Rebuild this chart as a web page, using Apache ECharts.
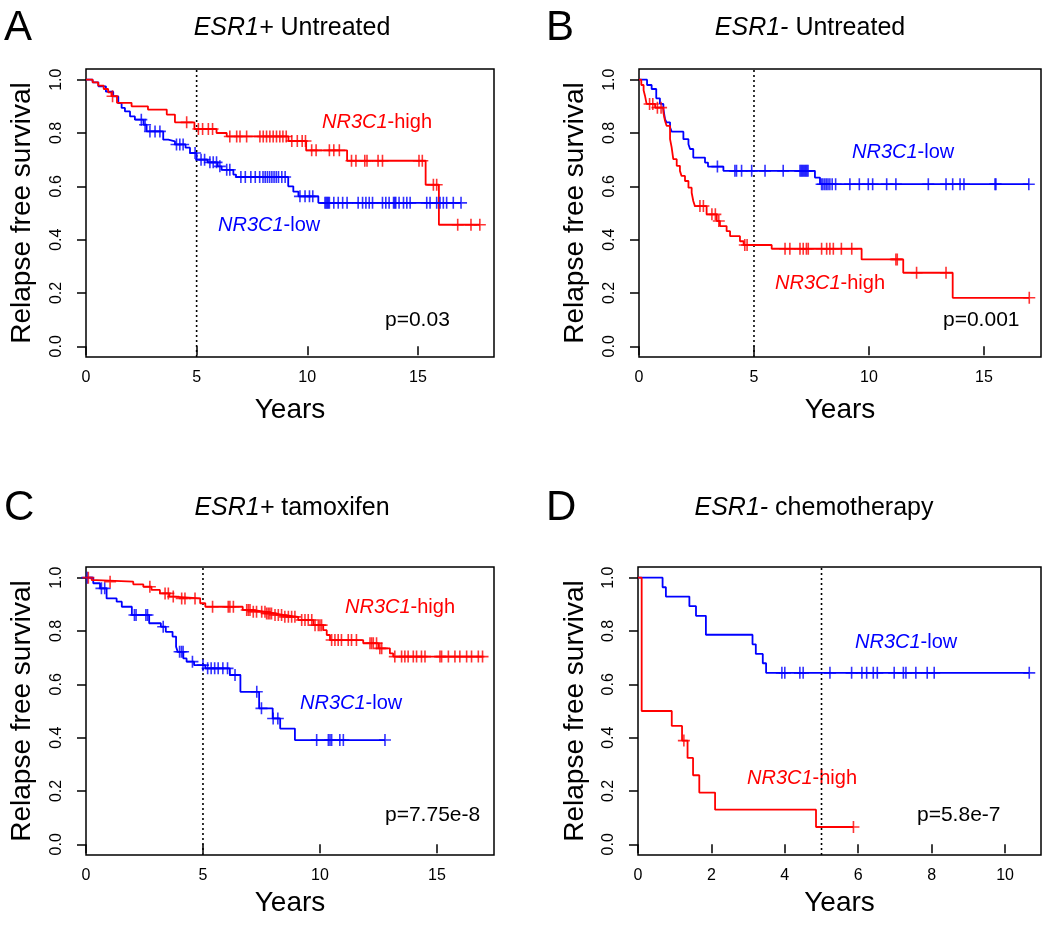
<!DOCTYPE html>
<html><head><meta charset="utf-8">
<script src="https://cdn.jsdelivr.net/npm/echarts@6/dist/echarts.min.js"></script>
<style>html,body{margin:0;padding:0;background:#fff}#c{width:1050px;height:938px}</style>
</head><body><div id="c"></div>
<script>
// ---------- DATA (Kaplan-Meier steps: [time in years, survival]) ----------
const A_high = [[0,1],[0.3,0.99],[0.55,0.978],[0.8,0.965],[1.0,0.952],[1.15,0.938],[1.4,0.913],[2.06,0.9],[2.8,0.888],[3.65,0.869],[4.02,0.84],[4.9,0.815],[5.9,0.8],[6.36,0.787],[9.15,0.77],[9.95,0.735],[11.8,0.696],[15.35,0.606],[15.95,0.456]];
const A_highCens = [1.2,4.55,5.08,5.27,5.53,5.72,6.5,6.81,6.96,7.26,7.86,8.01,8.16,8.31,8.46,8.61,8.76,8.9,9.05,9.3,9.55,9.77,9.92,10.2,10.4,11.0,11.2,11.45,12.0,12.2,12.6,12.7,13.2,13.4,15.05,15.2,15.7,15.85,16.8,17.4,17.8];
const A_low = [[0,1],[0.3,0.99],[0.56,0.975],[0.9,0.955],[1.23,0.937],[1.46,0.912],[1.61,0.894],[1.76,0.881],[1.99,0.862],[2.21,0.85],[2.6,0.831],[2.74,0.806],[3.49,0.775],[3.72,0.769],[4.02,0.757],[4.5,0.745],[4.7,0.725],[5.0,0.7],[5.5,0.69],[5.95,0.675],[6.13,0.662],[6.66,0.644],[6.78,0.635],[9.14,0.6],[9.37,0.58],[9.6,0.5625],[10.5,0.538]];
const A_lowCens = [2.5,2.67,2.89,3.12,3.34,4.09,4.24,4.39,4.93,5.2,5.36,5.6,5.75,5.9,6.05,6.36,6.5,7.0,7.2,7.45,7.65,7.85,8.0,8.1,8.2,8.3,8.4,8.5,8.6,8.7,8.85,9.0,9.67,9.9,10.1,10.25,10.8,10.85,10.9,10.95,11.0,11.2,11.4,11.6,11.8,12.3,12.5,12.65,12.8,12.95,13.4,13.55,13.7,13.9,13.95,14.0,14.15,14.35,14.5,14.65,15.4,15.55,15.85,16.0,16.15,16.3,16.6,16.95];

const B_high = [[0,1],[0.1,0.98],[0.2,0.96],[0.26,0.94],[0.33,0.909],[0.7,0.895],[1.06,0.877],[1.13,0.846],[1.2,0.827],[1.35,0.777],[1.42,0.746],[1.49,0.702],[1.64,0.677],[1.78,0.658],[1.85,0.639],[2.0,0.62],[2.15,0.595],[2.29,0.576],[2.36,0.545],[2.43,0.526],[2.94,0.495],[3.38,0.47],[3.52,0.451],[3.81,0.432],[3.96,0.413],[4.39,0.394],[4.55,0.38],[5.77,0.366],[9.68,0.326],[11.49,0.276],[13.64,0.182]];
const B_highCens = [0.46,0.6,0.8,0.96,2.65,2.8,3.17,3.32,3.47,4.6,4.7,6.35,6.56,7.0,7.14,7.28,7.36,7.94,8.16,8.3,8.45,8.8,9.25,11.17,11.23,12.07,13.35,16.97];
const B_low = [[0,1],[0.35,0.98],[0.55,0.965],[0.75,0.93],[0.91,0.909],[1.06,0.89],[1.13,0.852],[1.2,0.84],[1.35,0.821],[1.42,0.805],[1.93,0.777],[2.15,0.758],[2.22,0.74],[2.36,0.708],[2.87,0.689],[3.0,0.674],[3.67,0.658],[7.65,0.633],[7.87,0.608]];
const B_lowCens = [3.41,4.17,4.24,4.46,4.9,5.48,6.27,7.0,7.05,7.1,7.15,7.2,7.25,7.3,7.35,7.94,8.0,8.08,8.15,8.22,8.3,8.4,8.55,9.17,9.58,9.97,10.16,10.77,11.17,12.58,13.35,13.64,13.96,14.13,15.48,15.52,16.95];

const C_high = [[0,1],[0.24,0.991],[0.45,0.985],[2.02,0.975],[2.45,0.966],[2.8,0.954],[3.16,0.941],[3.56,0.929],[3.75,0.922],[4.88,0.904],[5.1,0.891],[6.7,0.879],[7.1,0.872],[7.7,0.866],[8.05,0.86],[8.43,0.853],[9.07,0.841],[9.72,0.822],[10.14,0.803],[10.29,0.785],[10.43,0.766],[11.85,0.754],[12.5,0.735],[12.99,0.716],[13.13,0.704]];
const C_highCens = [0.1,1.03,2.73,3.38,3.52,3.73,4.09,4.23,4.66,5.41,6.08,6.15,6.3,6.87,6.94,7.01,7.15,7.29,7.51,7.65,7.72,7.79,7.86,7.93,8.08,8.22,8.36,8.5,8.65,8.79,8.93,9.22,9.36,9.5,9.65,9.79,9.93,10.0,10.07,10.5,10.64,10.78,10.92,11.21,11.35,11.56,12.14,12.21,12.28,12.42,12.56,12.64,13.2,13.49,13.63,13.77,13.99,14.13,14.34,14.49,15.13,15.2,15.49,15.77,15.98,16.27,16.48,16.77,16.95];
const C_low = [[0,1],[0.31,0.979],[0.6,0.96],[0.88,0.922],[1.31,0.91],[1.53,0.891],[1.96,0.86],[2.7,0.829],[3.2,0.816],[3.41,0.797],[3.7,0.779],[3.85,0.741],[3.92,0.722],[4.16,0.697],[4.3,0.685],[4.62,0.672],[5.1,0.66],[6.15,0.635],[6.6,0.572],[7.4,0.51],[7.98,0.472],[8.3,0.434],[8.93,0.391]];
const C_lowCens = [0.05,0.66,0.8,2.07,2.14,2.56,2.63,3.3,4.0,4.08,4.15,4.55,5.0,5.2,5.35,5.5,5.65,5.85,6.05,6.37,7.3,7.5,8.0,8.2,9.86,10.36,10.43,10.5,10.85,11.0,12.78];

const D_high = [[0,1],[0.1,0.5],[0.92,0.444],[1.2,0.389],[1.35,0.324],[1.5,0.259],[1.67,0.194],[2.1,0.13],[4.85,0.065]];
const D_highCens = [1.25,5.87];
const D_low = [[0,1],[0.67,0.964],[0.76,0.929],[1.4,0.893],[1.58,0.857],[1.85,0.786],[3.12,0.75],[3.21,0.714],[3.4,0.679],[3.49,0.643]];
const D_lowCens = [3.92,4.0,4.41,4.5,5.23,5.82,6.1,6.23,6.41,6.52,6.98,7.23,7.3,7.57,7.88,8.07,10.66];

const yTicks = [0, 0.2, 0.4, 0.6, 0.8, 1.0];
const xTicksLong = [0, 5, 10, 15];
const xTicksD = [0, 2, 4, 6, 8, 10];
const refYear = 5;
const pValues = ['p=0.03', 'p=0.001', 'p=7.75e-8', 'p=5.8e-7'];
const titles = [['ESR1+', ' Untreated'], ['ESR1-', ' Untreated'], ['ESR1+', ' tamoxifen'], ['ESR1-', ' chemotherapy']];
const letters = ['A', 'B', 'C', 'D'];

// ---------- LAYOUT ----------
const FONT = '"Liberation Sans", Arial, Helvetica, sans-serif';
const RED = '#ff0000', BLUE = '#0000ff';
const panels = [
  {left: 86, top: 69, width: 408, xmax: 18.44, ticks: xTicksLong, high: A_high, highC: A_highCens, low: A_low, lowC: A_lowCens,
   hiLab: [322, 122], loLab: [218, 225], pLab: [385, 320], title: 292, titleY: 28, letterX: 4, ytitleX: 22, yearsY: 410},
  {left: 639, top: 69, width: 402, xmax: 17.48, ticks: xTicksLong, high: B_high, highC: B_highCens, low: B_low, lowC: B_lowCens,
   hiLab: [775, 283], loLab: [852, 152], pLab: [943, 320], title: 810, titleY: 28, letterX: 546, ytitleX: 575, yearsY: 410},
  {left: 86, top: 567, width: 408, xmax: 17.44, ticks: xTicksLong, high: C_high, highC: C_highCens, low: C_low, lowC: C_lowCens,
   hiLab: [345, 607], loLab: [300, 703], pLab: [385, 815], title: 292, titleY: 508, letterX: 4, ytitleX: 22, yearsY: 903},
  {left: 638, top: 567, width: 403, xmax: 10.98, ticks: xTicksD, high: D_high, highC: D_highCens, low: D_low, lowC: D_lowCens,
   hiLab: [747, 778], loLab: [855, 642], pLab: [917, 815], title: 814, titleY: 508, letterX: 546, ytitleX: 575, yearsY: 903}
];
const H = 288;

function survAt(steps, t) {
  let v = steps[0][1];
  for (const [ti, si] of steps) { if (ti <= t) v = si; else break; }
  return v;
}
function lineData(steps, cens) {
  const lastT = Math.max(steps[steps.length - 1][0], cens.length ? cens[cens.length - 1] : 0);
  return steps.concat([[lastT, steps[steps.length - 1][1]]]);
}
function censData(steps, cens) { return cens.map(t => [t, survAt(steps, t)]); }

const PLUS = 'path://M6,0L6,12M0,6L12,6';
const grids = [], xAxes = [], yAxes = [], series = [], graphics = [];
panels.forEach((p, i) => {
  grids.push({left: p.left, top: p.top, width: p.width, height: H, show: true, borderColor: '#000', borderWidth: 1.5, backgroundColor: 'transparent', containLabel: false});
  xAxes.push({type: 'value', gridIndex: i, min: 0, max: p.xmax,
    axisLine: {show: false}, splitLine: {show: false},
    axisTick: {show: true, customValues: p.ticks, length: 9, lineStyle: {color: '#000', width: 1.5}},
    axisLabel: {show: true, customValues: p.ticks, margin: 13, fontSize: 16, color: '#000', fontFamily: FONT, formatter: v => String(v)}});
  yAxes.push({type: 'value', gridIndex: i, min: -0.04, max: 1.04,
    axisLine: {show: false}, splitLine: {show: false},
    axisTick: {show: true, customValues: yTicks, length: 9, lineStyle: {color: '#000', width: 1.5}},
    axisLabel: {show: true, customValues: yTicks, margin: 21, rotate: 90, fontSize: 16, color: '#000', fontFamily: FONT, formatter: v => v.toFixed(1)}});
  // dotted reference line at 5 years
  series.push({type: 'line', xAxisIndex: i, yAxisIndex: i, data: [[refYear, -0.04], [refYear, 1.04]], symbol: 'none', silent: true,
    lineStyle: {color: '#000', width: 1.6, type: [2, 3]}, z: 1});
  [[p.low, p.lowC, BLUE], [p.high, p.highC, RED]].forEach(([st, ce, col]) => {
    series.push({type: 'line', xAxisIndex: i, yAxisIndex: i, step: 'end', data: lineData(st, ce), symbol: 'none',
      lineStyle: {color: col, width: 1.8}, silent: true, z: 3});
    series.push({type: 'scatter', xAxisIndex: i, yAxisIndex: i, data: censData(st, ce), symbol: PLUS, symbolSize: [12, 12],
      itemStyle: {color: 'none', borderColor: col, borderWidth: 1.6}, silent: true, z: 4});
  });
  const top = p.top;
  graphics.push({type: 'text', x: p.letterX, y: p.titleY, style: {text: letters[i], fontSize: 42, fontFamily: FONT, fill: '#000', align: 'left', verticalAlign: 'middle'}});
  graphics.push({type: 'text', x: p.title, y: p.titleY, style: {text: '{i|' + titles[i][0] + '}' + titles[i][1], fontSize: 25, fontFamily: FONT, fill: '#000', align: 'center', verticalAlign: 'middle',
    rich: {i: {fontStyle: 'italic', fontSize: 25, fontFamily: FONT, fill: '#000'}}}});
  graphics.push({type: 'text', x: p.ytitleX, y: top + H / 2, rotation: Math.PI / 2, style: {text: 'Relapse free survival', fontSize: 28, fontFamily: FONT, fill: '#000', align: 'center', verticalAlign: 'middle'}});
  graphics.push({type: 'text', x: p.left + p.width / 2, y: p.yearsY, style: {text: 'Years', fontSize: 28, fontFamily: FONT, fill: '#000', align: 'center', verticalAlign: 'middle'}});
  graphics.push({type: 'text', x: p.hiLab[0], y: p.hiLab[1], style: {text: '{i|NR3C1}-high', fontSize: 20, fontFamily: FONT, fill: RED, align: 'left', verticalAlign: 'middle',
    rich: {i: {fontStyle: 'italic', fontSize: 20, fontFamily: FONT, fill: RED}}}});
  graphics.push({type: 'text', x: p.loLab[0], y: p.loLab[1], style: {text: '{i|NR3C1}-low', fontSize: 20, fontFamily: FONT, fill: BLUE, align: 'left', verticalAlign: 'middle',
    rich: {i: {fontStyle: 'italic', fontSize: 20, fontFamily: FONT, fill: BLUE}}}});
  graphics.push({type: 'text', x: p.pLab[0], y: p.pLab[1], style: {text: pValues[i], fontSize: 21, fontFamily: FONT, fill: '#000', align: 'left', verticalAlign: 'middle'}});
});

const chart = echarts.init(document.getElementById('c'), null, {renderer: 'canvas'});
chart.setOption({
  animation: false,
  backgroundColor: '#fff',
  grid: grids, xAxis: xAxes, yAxis: yAxes, series: series,
  graphic: graphics
});
</script></body></html>
